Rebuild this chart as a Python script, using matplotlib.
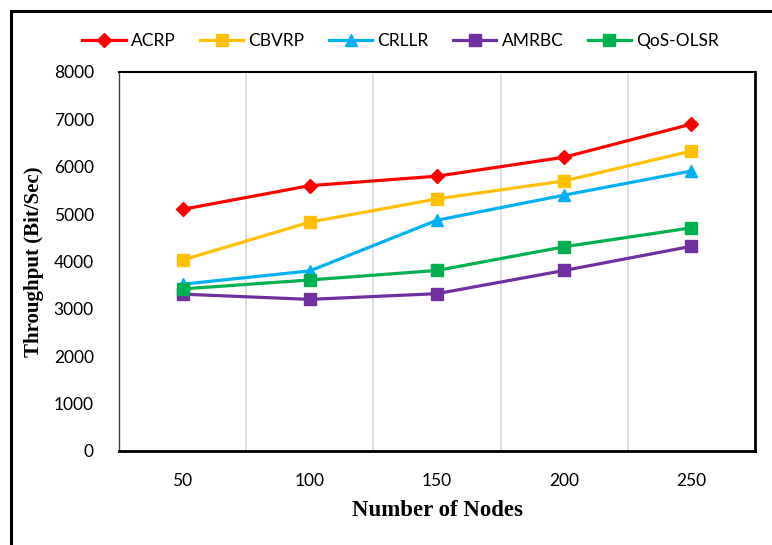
import matplotlib.pyplot as plt
from matplotlib.patches import Rectangle

# Data
nodes = ["50", "100", "150", "200", "250"]
acrp = [5100, 5600, 5800, 6200, 6900]
cbvrp = [4030, 4830, 5320, 5700, 6330]
crllr = [3520, 3800, 4870, 5400, 5910]
amrbc = [3310, 3200, 3320, 3810, 4320]
qos_olsr = [3420, 3610, 3810, 4310, 4710]

series = [
    ("ACRP", acrp, "#FF0000", "D", 7.5),
    ("CBVRP", cbvrp, "#FFC000", "s", 8),
    ("CRLLR", crllr, "#00B0F0", "^", 8.5),
    ("AMRBC", amrbc, "#7030A0", "s", 9),
    ("QoS-OLSR", qos_olsr, "#00B050", "s", 9),
]

tick_font = "Lato"
label_font = "Liberation Serif"

fig = plt.figure(figsize=(7.72, 5.45), dpi=100)
ax = fig.add_axes([0.154, 0.1725, 0.824, 0.6955])

x = range(len(nodes))
for name, vals, color, marker, ms in series:
    ax.plot(x, vals, color=color, marker=marker, markersize=ms, linewidth=2.3, label=name)

ax.set_xlim(-0.5, len(nodes) - 0.5)
ax.set_ylim(0, 8000)
ax.set_yticks(range(0, 8001, 1000))
ax.set_xticks(list(x))
ax.set_xticklabels(nodes)
ax.set_xticks([i + 0.5 for i in range(len(nodes) - 1)], minor=True)
ax.grid(True, which="minor", axis="x", color="#D9D9D9", linewidth=1.2)
ax.tick_params(which="both", length=0)
ax.tick_params(axis="x", pad=16)
ax.tick_params(axis="y", pad=18)
for lab in ax.get_xticklabels() + ax.get_yticklabels():
    lab.set_fontfamily(tick_font)
    lab.set_fontsize(12.5)

ax.spines["left"].set_linewidth(1.0)
ax.spines["left"].set_color("#404040")
ax.spines["top"].set_linewidth(1.5)
ax.spines["right"].set_linewidth(2.0)
ax.spines["bottom"].set_linewidth(2.0)

ax.set_xlabel("Number of Nodes", fontfamily=label_font, fontweight="bold", fontsize=16.5, labelpad=8)
ax.set_ylabel("Throughput (Bit/Sec)", fontfamily=label_font, fontweight="bold", fontsize=15, labelpad=7)

leg = fig.legend(loc="center", bbox_to_anchor=(0.519, 0.925), ncol=5, frameon=False,
                 prop={"family": tick_font, "size": 12.5}, handlelength=2.5,
                 columnspacing=1.4, handletextpad=0.3)

# outer frame of the figure, cut off on the right and bottom like the original
fig.patches.append(Rectangle((0.014, -0.05), 1.1, 1.03, transform=fig.transFigure,
                             fill=False, edgecolor="black", linewidth=2.2))

fig.savefig("out.png", dpi=100)
